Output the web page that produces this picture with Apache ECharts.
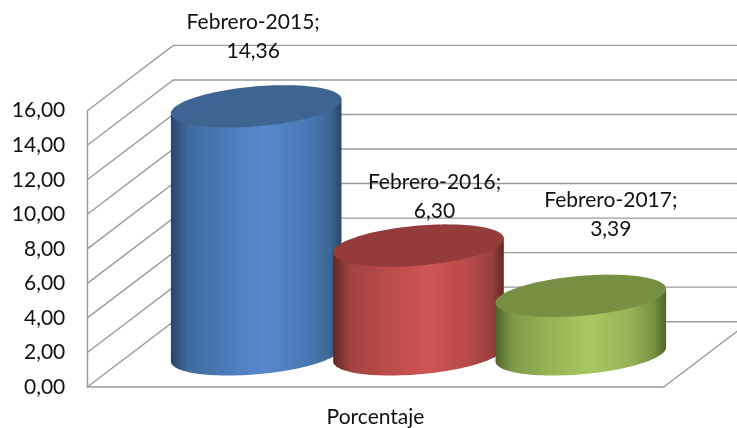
<!DOCTYPE html>
<html><head><meta charset="utf-8">
<style>html,body{margin:0;padding:0;background:#fff}#c{width:737px;height:428px}</style>
<script src="https://cdn.jsdelivr.net/npm/echarts@6/dist/echarts.min.js"></script>
</head><body><div id="c"></div>
<script>
const categories = ['Porcentaje'];
const seriesNames = ['Febrero-2015', 'Febrero-2016', 'Febrero-2017'];
const seriesValues = [14.36, 6.30, 3.39];
const yTicks = [0, 2, 4, 6, 8, 10, 12, 14, 16];

const FONT = 'Lato, "Open Sans", sans-serif';
const DEPTH_X = 86, DEPTH_Y = 65.3;
const BAR_HALF = 85.3, BAR_STEP = 162.3;
const SKEW = 7, MINOR = 20;
const labelNudge = [[-3, -70], [16, -49], [30, -81]];
const palettes = [
  {top:'#3E6492', stops:['#27456B','#3F6A9E','#4A7AB6','#5688CB','#4A78B4','#3D6696','#2A4868']},
  {top:'#933C3A', stops:['#652625','#A04341','#B94B49','#CF5553','#B54A48','#974040','#662725']},
  {top:'#778F42', stops:['#4F6329','#7D9A48','#93B255','#A6C85F','#93B255','#76903F','#50642A']}
];
const stopAt = [0, 0.1, 0.3, 0.55, 0.8, 0.93, 1];

const fmt = v => v.toFixed(2).replace('.', ',');

function ellipse(cx, cy, from, to, n) {
  const pts = [];
  for (let i = 0; i <= n; i++) {
    const t = from + (to - from) * i / n;
    pts.push([cx + BAR_HALF * Math.cos(t), cy - SKEW * Math.cos(t) + MINOR * Math.sin(t)]);
  }
  return pts;
}

function wallItem(params, api) {
  const v = api.value(1);
  const y = api.coord([0, v])[1];
  const x0 = params.coordSys.x;
  const line = [[x0, y], [x0 + DEPTH_X, y - DEPTH_Y], [api.getWidth(), y - DEPTH_Y]];
  const style = {stroke: '#9A9A9A', lineWidth: 1.4, fill: null};
  const kids = [{type: 'polyline', shape: {points: line}, style}];
  if (v === 0) {
    const xr = x0 + params.coordSys.width;
    kids.push({type: 'line', shape: {x1: xr, y1: y, x2: xr + DEPTH_X, y2: y - DEPTH_Y}, style});
  }
  return {type: 'group', children: kids};
}

function cylinder(k) {
  return function (params, api) {
    const v = api.value(1);
    const front = api.coord([0, 0]);
    const topFront = api.coord([0, v]);
    const cx = front[0] + DEPTH_X / 2 + (k - 1) * BAR_STEP;
    const yb = front[1] - DEPTH_Y / 2;
    const yt = topFront[1] - DEPTH_Y / 2;
    const pal = palettes[k];
    const lower = ellipse(cx, yb, 0, Math.PI, 60);
    const body = [[cx - BAR_HALF, yt + SKEW], [cx + BAR_HALF, yt - SKEW]].concat(lower);
    return {type: 'group', children: [
      {type: 'polygon', shape: {points: body}, style: {fill: new echarts.graphic.LinearGradient(0, 0, 1, 0,
        pal.stops.map((c, i) => ({offset: stopAt[i], color: c})))}},
      {type: 'polygon', shape: {points: ellipse(cx, yt, 0, Math.PI * 2, 120)}, style: {fill: pal.top}}
    ]};
  };
}

function labelItem(params, api) {
  const k = params.dataIndex;
  const p = api.coord([0, api.value(1)]);
  return {type: 'text', style: {
    text: seriesNames[k] + ';\n' + fmt(seriesValues[k]),
    x: p[0] + DEPTH_X / 2 + (k - 1) * BAR_STEP + labelNudge[k][0],
    y: p[1] - DEPTH_Y / 2 + labelNudge[k][1],
    align: 'center', verticalAlign: 'middle',
    fontFamily: FONT, fontSize: 21, lineHeight: 29, fill: '#111'
  }};
}

const chart = echarts.init(document.getElementById('c'), null, {renderer: 'canvas'});
chart.setOption({
  animation: false,
  backgroundColor: '#fff',
  grid: {left: 87.3, right: 73.3, top: 110.7, bottom: 40.7},
  xAxis: {type: 'category', data: categories,
    axisLine: {lineStyle: {color: '#9A9A9A', width: 1.6}}, axisTick: {show: false},
    axisLabel: {color: '#111', fontFamily: FONT, fontSize: 21, margin: 20}},
  yAxis: {type: 'value', min: 0, max: 16, interval: 2, splitLine: {show: false},
    axisLine: {show: true, lineStyle: {color: '#9A9A9A', width: 1.4}}, axisTick: {show: false},
    axisLabel: {color: '#111', fontFamily: FONT, fontSize: 21, margin: 22, formatter: fmt}},
  series: [
    {type: 'custom', name: 'walls', z: 1, silent: true, renderItem: wallItem,
      data: yTicks.map(v => [0, v]), encode: {x: 0, y: 1}},
    ...seriesNames.map((n, k) => ({type: 'custom', name: n, z: 2 + k, renderItem: cylinder(k),
      data: [[0, seriesValues[k]]], encode: {x: 0, y: 1}})),
    {type: 'custom', name: 'labels', z: 9, silent: true, renderItem: labelItem,
      data: seriesValues.map(v => [0, v]), encode: {x: 0, y: 1}}
  ]
});
</script></body></html>
